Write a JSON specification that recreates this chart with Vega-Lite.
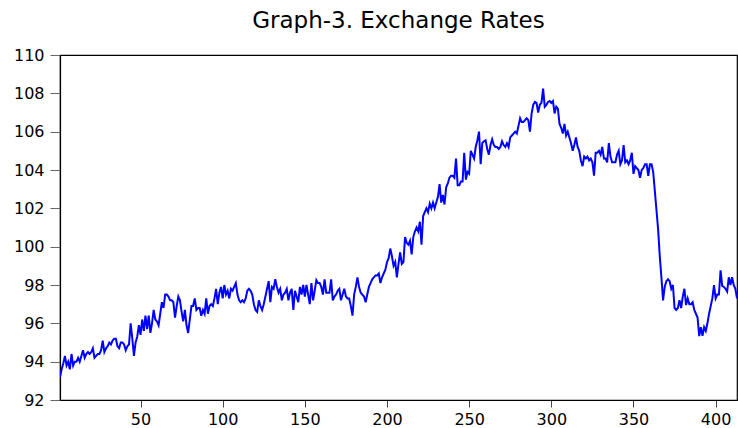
{
  "$schema": "https://vega.github.io/schema/vega-lite/v6.json",
  "width": 677,
  "height": 345,
  "autosize": {"type": "none"},
  "padding": {"left": 60, "top": 55, "right": 1, "bottom": 28},
  "background": "white",
  "title": {"text": "Graph-3. Exchange Rates", "font": "DejaVu Sans", "fontSize": 23, "fontWeight": "normal", "color": "black", "baseline": "bottom", "offset": 21, "dy": 30, "anchor": "middle"},
  "config": {"view": {"stroke": "black", "strokeWidth": 1.2}},
  "data": {"values": [
{"t":1,"v":93.2},{"t":2,"v":93.6},{"t":3,"v":93.9},{"t":4,"v":94.3},{"t":5,"v":93.8},{"t":6,"v":94.0},{"t":7,"v":93.6},{"t":8,"v":94.4},{"t":9,"v":93.8},{"t":10,"v":94.0},
{"t":11,"v":94.0},{"t":12,"v":94.2},{"t":13,"v":94.0},{"t":14,"v":94.3},{"t":15,"v":94.6},{"t":16,"v":94.2},{"t":17,"v":94.4},{"t":18,"v":94.5},{"t":19,"v":94.4},{"t":20,"v":94.5},
{"t":21,"v":94.7},{"t":22,"v":94.2},{"t":23,"v":94.3},{"t":24,"v":94.4},{"t":25,"v":94.4},{"t":26,"v":94.6},{"t":27,"v":95.1},{"t":28,"v":94.5},{"t":29,"v":94.7},{"t":30,"v":94.8},
{"t":31,"v":95.0},{"t":32,"v":94.9},{"t":33,"v":95.1},{"t":34,"v":95.2},{"t":35,"v":95.2},{"t":36,"v":94.8},{"t":37,"v":94.7},{"t":38,"v":95.0},{"t":39,"v":95.0},{"t":40,"v":94.9},
{"t":41,"v":94.6},{"t":42,"v":94.8},{"t":43,"v":94.9},{"t":44,"v":96.0},{"t":45,"v":95.2},{"t":46,"v":94.3},{"t":47,"v":95.0},{"t":48,"v":95.3},{"t":49,"v":95.9},{"t":50,"v":95.4},
{"t":51,"v":96.2},{"t":52,"v":95.6},{"t":53,"v":96.4},{"t":54,"v":95.7},{"t":55,"v":96.4},{"t":56,"v":95.5},{"t":57,"v":96.0},{"t":58,"v":96.7},{"t":59,"v":96.2},{"t":60,"v":96.1},
{"t":61,"v":95.9},{"t":62,"v":96.5},{"t":63,"v":97.1},{"t":64,"v":96.8},{"t":65,"v":97.5},{"t":66,"v":97.5},{"t":67,"v":97.4},{"t":68,"v":97.2},{"t":69,"v":97.2},{"t":70,"v":97.1},
{"t":71,"v":96.3},{"t":72,"v":96.9},{"t":73,"v":97.4},{"t":74,"v":97.2},{"t":75,"v":96.6},{"t":76,"v":96.1},{"t":77,"v":96.7},{"t":78,"v":95.9},{"t":79,"v":95.5},{"t":80,"v":96.2},
{"t":81,"v":96.9},{"t":82,"v":96.9},{"t":83,"v":97.3},{"t":84,"v":96.7},{"t":85,"v":96.8},{"t":86,"v":96.8},{"t":87,"v":96.4},{"t":88,"v":96.7},{"t":89,"v":96.5},{"t":90,"v":97.3},
{"t":91,"v":96.5},{"t":92,"v":96.9},{"t":93,"v":97.0},{"t":94,"v":96.9},{"t":95,"v":97.3},{"t":96,"v":97.8},{"t":97,"v":97.0},{"t":98,"v":97.6},{"t":99,"v":97.9},{"t":100,"v":97.3},
{"t":101,"v":98.0},{"t":102,"v":97.5},{"t":103,"v":97.7},{"t":104,"v":97.3},{"t":105,"v":97.8},{"t":106,"v":97.7},{"t":107,"v":97.9},{"t":108,"v":98.1},{"t":109,"v":97.5},{"t":110,"v":97.2},
{"t":111,"v":97.1},{"t":112,"v":97.2},{"t":113,"v":97.1},{"t":114,"v":97.3},{"t":115,"v":97.7},{"t":116,"v":97.8},{"t":117,"v":97.7},{"t":118,"v":97.5},{"t":119,"v":97.0},{"t":120,"v":96.7},
{"t":121,"v":96.6},{"t":122,"v":97.2},{"t":123,"v":96.9},{"t":124,"v":96.7},{"t":125,"v":97.0},{"t":126,"v":97.4},{"t":127,"v":97.8},{"t":128,"v":98.2},{"t":129,"v":97.1},{"t":130,"v":97.9},
{"t":131,"v":97.8},{"t":132,"v":98.3},{"t":133,"v":97.9},{"t":134,"v":97.6},{"t":135,"v":97.8},{"t":136,"v":97.2},{"t":137,"v":97.5},{"t":138,"v":97.6},{"t":139,"v":97.8},{"t":140,"v":97.2},
{"t":141,"v":97.6},{"t":142,"v":97.8},{"t":143,"v":96.7},{"t":144,"v":97.7},{"t":145,"v":97.4},{"t":146,"v":97.1},{"t":147,"v":97.9},{"t":148,"v":97.5},{"t":149,"v":98.0},{"t":150,"v":97.4},
{"t":151,"v":98.0},{"t":152,"v":97.5},{"t":153,"v":97.0},{"t":154,"v":98.1},{"t":155,"v":97.2},{"t":156,"v":97.7},{"t":157,"v":98.25},{"t":158,"v":98.1},{"t":159,"v":98.1},{"t":160,"v":97.9},
{"t":161,"v":97.5},{"t":162,"v":98.3},{"t":163,"v":97.6},{"t":164,"v":97.6},{"t":165,"v":97.6},{"t":166,"v":98.3},{"t":167,"v":97.2},{"t":168,"v":97.4},{"t":169,"v":97.5},{"t":170,"v":97.7},
{"t":171,"v":97.8},{"t":172,"v":97.2},{"t":173,"v":97.5},{"t":174,"v":97.8},{"t":175,"v":97.4},{"t":176,"v":97.3},{"t":177,"v":97.3},{"t":178,"v":96.9},{"t":179,"v":96.4},{"t":180,"v":97.5},
{"t":181,"v":97.9},{"t":182,"v":98.4},{"t":183,"v":97.9},{"t":184,"v":97.6},{"t":185,"v":97.5},{"t":186,"v":97.4},{"t":187,"v":97.1},{"t":188,"v":97.5},{"t":189,"v":97.9},{"t":190,"v":98.1},
{"t":191,"v":98.3},{"t":192,"v":98.4},{"t":193,"v":98.5},{"t":194,"v":98.5},{"t":195,"v":98.6},{"t":196,"v":98.1},{"t":197,"v":98.4},{"t":198,"v":98.6},{"t":199,"v":98.8},{"t":200,"v":99.2},
{"t":201,"v":99.4},{"t":202,"v":99.9},{"t":203,"v":99.5},{"t":204,"v":99.0},{"t":205,"v":99.2},{"t":206,"v":98.4},{"t":207,"v":99.1},{"t":208,"v":99.7},{"t":209,"v":99.1},{"t":210,"v":99.2},
{"t":211,"v":100.5},{"t":212,"v":100.2},{"t":213,"v":100.1},{"t":214,"v":100.3},{"t":215,"v":99.6},{"t":216,"v":100.5},{"t":217,"v":100.8},{"t":218,"v":101.0},{"t":219,"v":100.8},{"t":220,"v":101.3},
{"t":221,"v":100.1},{"t":222,"v":101.6},{"t":223,"v":101.8},{"t":224,"v":102.0},{"t":225,"v":101.8},{"t":226,"v":102.25},{"t":227,"v":102.0},{"t":228,"v":102.3},{"t":229,"v":102.0},{"t":230,"v":102.3},
{"t":231,"v":102.6},{"t":232,"v":103.26},{"t":233,"v":102.3},{"t":234,"v":102.7},{"t":235,"v":102.2},{"t":236,"v":103.1},{"t":237,"v":103.3},{"t":238,"v":103.6},{"t":239,"v":103.7},{"t":240,"v":103.7},
{"t":241,"v":103.6},{"t":242,"v":104.6},{"t":243,"v":103.2},{"t":244,"v":103.2},{"t":245,"v":103.4},{"t":246,"v":103.4},{"t":247,"v":104.9},{"t":248,"v":103.5},{"t":249,"v":103.9},{"t":250,"v":103.8},
{"t":251,"v":105.0},{"t":252,"v":104.8},{"t":253,"v":104.6},{"t":254,"v":105.2},{"t":255,"v":105.55},{"t":256,"v":106.0},{"t":257,"v":104.3},{"t":258,"v":105.4},{"t":259,"v":105.5},{"t":260,"v":105.55},
{"t":261,"v":105.1},{"t":262,"v":104.8},{"t":263,"v":105.3},{"t":264,"v":105.6},{"t":265,"v":105.3},{"t":266,"v":105.2},{"t":267,"v":105.2},{"t":268,"v":105.1},{"t":269,"v":105.2},{"t":270,"v":105.5},
{"t":271,"v":105.3},{"t":272,"v":105.2},{"t":273,"v":105.4},{"t":274,"v":105.2},{"t":275,"v":105.7},{"t":276,"v":105.8},{"t":277,"v":105.9},{"t":278,"v":106.0},{"t":279,"v":105.9},{"t":280,"v":106.3},
{"t":281,"v":106.7},{"t":282,"v":106.5},{"t":283,"v":106.5},{"t":284,"v":106.6},{"t":285,"v":106.7},{"t":286,"v":106.6},{"t":287,"v":106.0},{"t":288,"v":106.95},{"t":289,"v":107.4},{"t":290,"v":107.55},
{"t":291,"v":107.5},{"t":292,"v":107.0},{"t":293,"v":107.4},{"t":294,"v":107.5},{"t":295,"v":108.25},{"t":296,"v":107.3},{"t":297,"v":107.4},{"t":298,"v":107.55},{"t":299,"v":107.6},{"t":300,"v":107.5},
{"t":301,"v":107.6},{"t":302,"v":106.95},{"t":303,"v":107.3},{"t":304,"v":107.2},{"t":305,"v":106.4},{"t":306,"v":106.2},{"t":307,"v":105.9},{"t":308,"v":106.4},{"t":309,"v":105.8},{"t":310,"v":106.0},
{"t":311,"v":105.7},{"t":312,"v":105.4},{"t":313,"v":105.0},{"t":314,"v":105.3},{"t":315,"v":105.7},{"t":316,"v":105.2},{"t":317,"v":105.0},{"t":318,"v":104.5},{"t":319,"v":104.2},{"t":320,"v":104.7},
{"t":321,"v":104.6},{"t":322,"v":104.7},{"t":323,"v":104.5},{"t":324,"v":104.6},{"t":325,"v":104.4},{"t":326,"v":103.7},{"t":327,"v":104.9},{"t":328,"v":104.9},{"t":329,"v":105.0},{"t":330,"v":104.8},
{"t":331,"v":105.2},{"t":332,"v":104.6},{"t":333,"v":104.6},{"t":334,"v":104.4},{"t":335,"v":105.4},{"t":336,"v":104.7},{"t":337,"v":104.4},{"t":338,"v":104.4},{"t":339,"v":104.4},{"t":340,"v":104.8},
{"t":341,"v":105.0},{"t":342,"v":104.3},{"t":343,"v":104.5},{"t":344,"v":105.3},{"t":345,"v":104.4},{"t":346,"v":104.5},{"t":347,"v":104.3},{"t":348,"v":104.5},{"t":349,"v":104.9},{"t":350,"v":103.8},
{"t":351,"v":104.2},{"t":352,"v":104.1},{"t":353,"v":104.0},{"t":354,"v":103.6},{"t":355,"v":104.0},{"t":356,"v":104.1},{"t":357,"v":104.3},{"t":358,"v":104.3},{"t":359,"v":103.7},{"t":360,"v":104.3},
{"t":361,"v":104.3},{"t":362,"v":103.9},{"t":363,"v":102.9},{"t":364,"v":101.9},{"t":365,"v":100.9},{"t":366,"v":99.5},{"t":367,"v":98.4},{"t":368,"v":97.2},{"t":369,"v":97.9},{"t":370,"v":98.2},
{"t":371,"v":98.3},{"t":372,"v":98.2},{"t":373,"v":97.8},{"t":374,"v":98.0},{"t":375,"v":96.8},{"t":376,"v":96.7},{"t":377,"v":96.8},{"t":378,"v":97.2},{"t":379,"v":96.8},{"t":380,"v":97.4},
{"t":381,"v":97.8},{"t":382,"v":96.95},{"t":383,"v":97.3},{"t":384,"v":97.0},{"t":385,"v":97.0},{"t":386,"v":97.1},{"t":387,"v":96.7},{"t":388,"v":96.5},{"t":389,"v":96.3},{"t":390,"v":95.33},
{"t":391,"v":95.8},{"t":392,"v":95.35},{"t":393,"v":95.8},{"t":394,"v":95.6},{"t":395,"v":96.0},{"t":396,"v":96.5},{"t":397,"v":96.9},{"t":398,"v":97.3},{"t":399,"v":98.0},{"t":400,"v":97.3},
{"t":401,"v":97.5},{"t":402,"v":97.5},{"t":403,"v":98.77},{"t":404,"v":97.95},{"t":405,"v":97.9},{"t":406,"v":97.8},{"t":407,"v":97.65},{"t":408,"v":98.4},{"t":409,"v":98.0},{"t":410,"v":98.4},
{"t":411,"v":98.0},{"t":412,"v":97.8},{"t":413,"v":97.3}
  ]},
  "mark": {"type": "line", "color": "#0000FF", "strokeWidth": 2, "clip": true},
  "encoding": {
    "x": {"field": "t", "type": "quantitative", "title": null,
      "scale": {"domain": [1, 413], "nice": false, "zero": false},
      "axis": {"values": [50, 100, 150, 200, 250, 300, 350, 400], "grid": false, "domain": true, "domainColor": "black", "domainWidth": 1.2,
        "tickColor": "#444", "tickSize": 7, "tickWidth": 1, "labelPadding": 4,
        "labelFont": "DejaVu Sans", "labelFontSize": 16, "labelColor": "black", "labelFlush": false}},
    "y": {"field": "v", "type": "quantitative", "title": null,
      "scale": {"domain": [92, 110], "nice": false, "zero": false},
      "axis": {"values": [92, 94, 96, 98, 100, 102, 104, 106, 108, 110], "grid": false, "domain": true, "domainColor": "black", "domainWidth": 1.2,
        "tickColor": "#666", "tickSize": 10, "tickWidth": 1, "labelPadding": 6,
        "labelFont": "DejaVu Sans", "labelFontSize": 16, "labelColor": "black", "labelFlush": false}}
  }
}
